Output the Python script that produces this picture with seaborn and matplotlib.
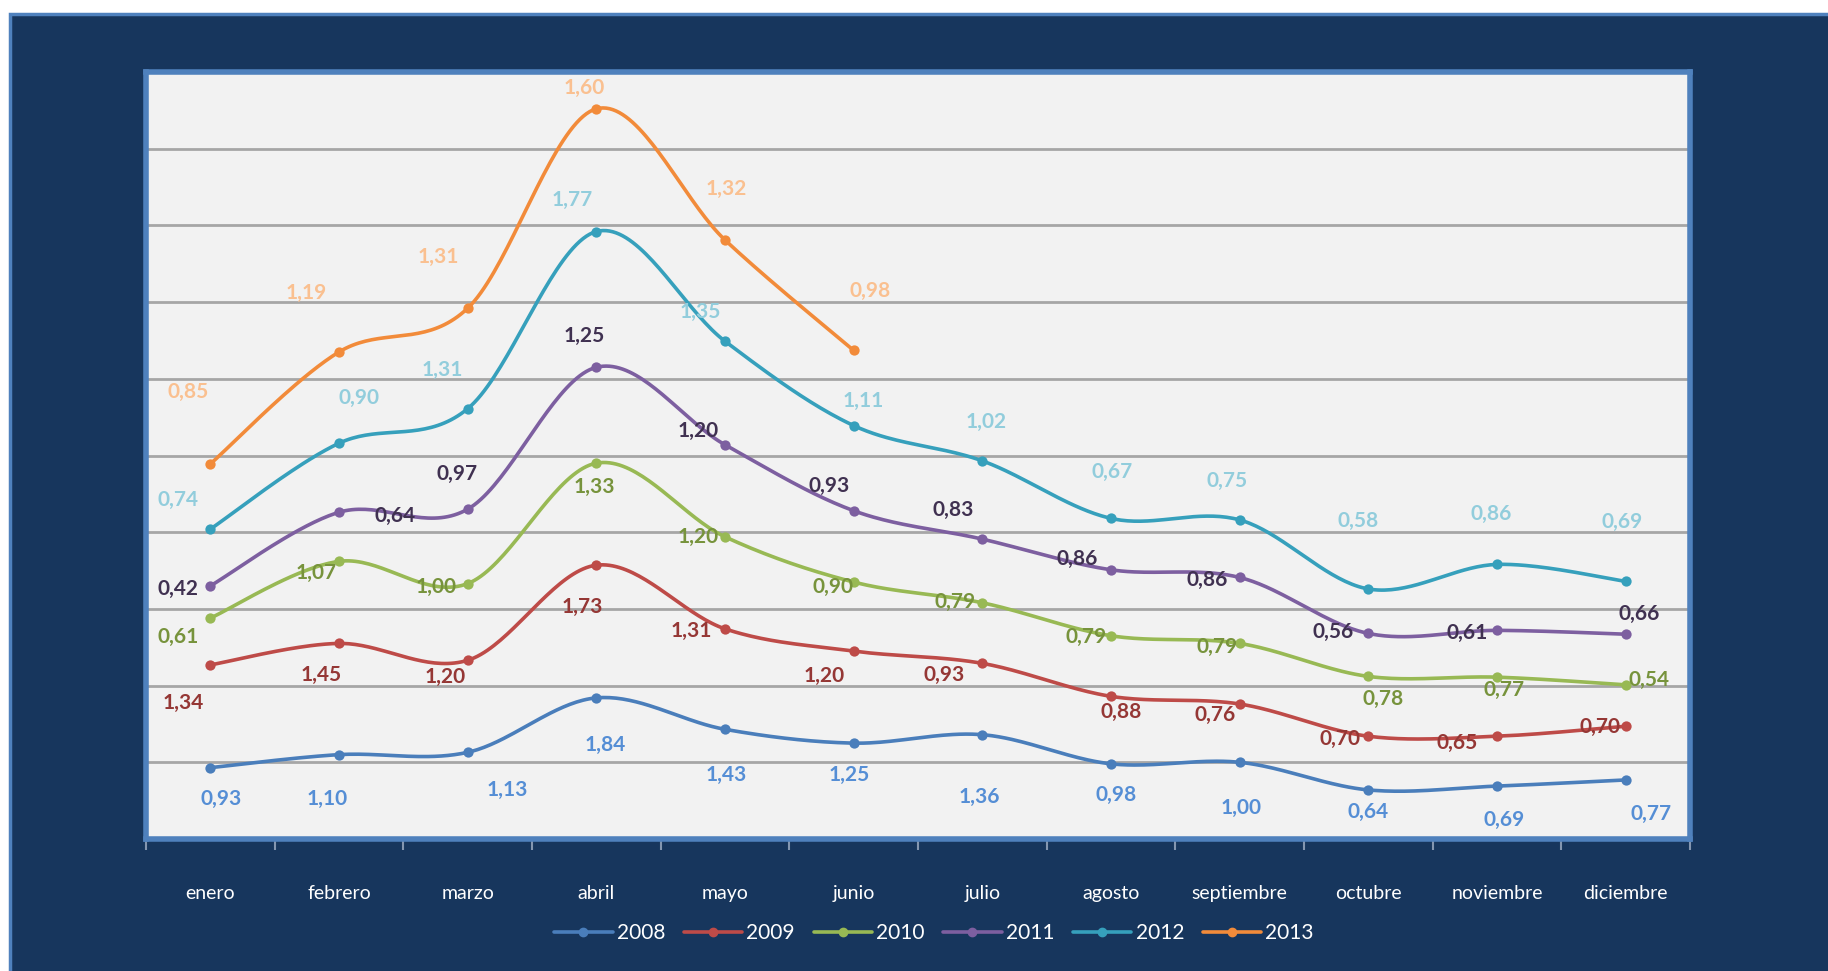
import numpy as np
import pandas as pd
import seaborn as sns
import matplotlib
matplotlib.use("Agg")
import matplotlib.pyplot as plt
from matplotlib.patches import Rectangle
from matplotlib.lines import Line2D

# ---------------- data ----------------
months = ["enero", "febrero", "marzo", "abril", "mayo", "junio", "julio",
          "agosto", "septiembre", "octubre", "noviembre", "diciembre"]
years = ["2008", "2009", "2010", "2011", "2012", "2013"]
v2008 = [0.93, 1.10, 1.13, 1.84, 1.43, 1.25, 1.36, 0.98, 1.00, 0.64, 0.69, 0.77]
v2009 = [1.34, 1.45, 1.20, 1.73, 1.31, 1.20, 0.93, 0.88, 0.76, 0.70, 0.65, 0.70]
v2010 = [0.61, 1.07, 1.00, 1.33, 1.20, 0.90, 0.79, 0.79, 0.79, 0.78, 0.77, 0.54]
v2011 = [0.42, 0.64, 0.97, 1.25, 1.20, 0.93, 0.83, 0.86, 0.86, 0.56, 0.61, 0.66]
v2012 = [0.74, 0.90, 1.31, 1.77, 1.35, 1.11, 1.02, 0.67, 0.75, 0.58, 0.86, 0.69]
v2013 = [0.85, 1.19, 1.31, 1.60, 1.32, 0.98]
series = [v2008, v2009, v2010, v2011, v2012, v2013]

# ---------------- style ----------------
line_colors = ["#4a7ebb", "#be4b48", "#98b954", "#7d5fa0", "#36a0bc", "#f28b3a"]
label_colors = ["#558ed5", "#953735", "#77933c", "#403151", "#92cddc", "#fac090"]
# data-label offsets relative to each marker (pixels of a 1568-wide view; +dy = downwards)
label_offsets = [
    [(9, 27), (-10, 38), (34, 32), (8, 40), (1, 39), (-4, 27), (-3, 53), (4, 27), (1, 39), (0, 19), (6, 29), (22, 29)],
    [(-23, 33), (-15, 27), (-19, 14), (-12, 36), (-29, 2), (-25, 21), (-33, 10), (9, 13), (-21, 9), (-24, 2), (-34, 6), (-22, 1)],
    [(-28, 16), (-20, 10), (-27, 3), (-2, 20), (-23, 0), (-18, 4), (-23, -1), (-21, 1), (-19, 3), (13, 19), (6, 11), (20, -4)],
    [(-28, 3), (48, 3), (-9, -30), (-10, -27), (-23, -12), (-21, -21), (-25, -25), (-29, -9), (-28, 2), (-30, -1), (-26, 2), (12, -17)],
    [(-28, -25), (17, -39), (-22, -33), (-21, -27), (-21, -25), (8, -21), (3, -33), (1, -40), (-11, -33), (-9, -58), (-5, -43), (-3, -51)],
    [(-19, -62), (-28, -51), (-25, -44), (-10, -18), (1, -44), (14, -51)],
]
OFF_SCALE = 1828 / 1568

sns.set_theme(style="white")
plt.rcParams["font.family"] = ["Lato", "DejaVu Sans"]

W, H, DPI = 1828, 971, 100
fig = plt.figure(figsize=(W / DPI, H / DPI), dpi=DPI, facecolor="white")

# dark outer panel (drawn behind the axes)
panel = Rectangle((10 / W, -0.01), 1.0, 1 - 14 / H + 0.01, transform=fig.transFigure,
                  facecolor="#17365d", edgecolor="#4f81bd", linewidth=2.5, zorder=-10)
fig.patches.append(panel)

ax = fig.add_axes([146 / W, 1 - 839 / H, (1690 - 146) / W, (839 - 72) / H])
ax.set_zorder(2)
ax.set_facecolor("#f2f2f2")


def smooth(xs, ys, n=40):
    """Excel-like smoothed line (cubic Bezier with Catmull-Rom tangents)."""
    P = np.column_stack([xs, ys]).astype(float)
    m = len(P)
    out = []
    for i in range(m - 1):
        p0 = P[max(i - 1, 0)]
        p1 = P[i]
        p2 = P[i + 1]
        p3 = P[min(i + 2, m - 1)]
        c1 = p1 + (p2 - p0) / 6.0
        c2 = p2 - (p3 - p1) / 6.0
        t = np.linspace(0, 1, n)[:, None]
        seg = ((1 - t) ** 3) * p1 + 3 * ((1 - t) ** 2) * t * c1 + 3 * (1 - t) * t ** 2 * c2 + t ** 3 * p2
        out.append(seg if i == 0 else seg[1:])
    return np.vstack(out)


cum = np.zeros(len(months))
for k, (yr, vals) in enumerate(zip(years, series)):
    n = len(vals)
    cum_vals = cum[:n] + np.array(vals)
    xs = np.arange(n)
    curve = smooth(xs, cum_vals)
    df_curve = pd.DataFrame({"x": curve[:, 0], "y": curve[:, 1]})
    sns.lineplot(data=df_curve, x="x", y="y", ax=ax, color=line_colors[k], linewidth=2.6,
                 sort=False, estimator=None, zorder=3 + k)
    df_pts = pd.DataFrame({"x": xs, "y": cum_vals})
    sns.scatterplot(data=df_pts, x="x", y="y", ax=ax, color=line_colors[k], s=55,
                    edgecolor=line_colors[k], linewidth=0, zorder=4 + k)
    for i, v in enumerate(vals):
        dx, dy = label_offsets[k][i]
        ax.annotate(f"{v:.2f}".replace(".", ","), (xs[i], cum_vals[i]),
                    xytext=(dx * OFF_SCALE, -dy * OFF_SCALE), textcoords="offset pixels",
                    ha="center", va="center", fontsize=15, fontweight="bold",
                    color=label_colors[k], zorder=20)
    cum[:n] = cum_vals

ax.set_xlim(-0.5, len(months) - 0.5)
ax.set_ylim(0, 10)
ax.set_yticks(np.arange(1, 10))
ax.yaxis.grid(True, color="#a6a6a6", linewidth=2.0)
ax.set_axisbelow(True)
ax.tick_params(axis="y", length=0, labelleft=False)
ax.set_xticks(np.arange(len(months)))
ax.set_xticklabels(months, color="white", fontsize=14)
ax.set_xticks(np.arange(-0.5, len(months)), minor=True)
ax.tick_params(axis="x", which="major", length=0, pad=33)
ax.tick_params(axis="x", which="minor", length=8, width=1.5, color="#8496b0", direction="out", bottom=True)
ax.set_xlabel("")
ax.set_ylabel("")
for sp in ax.spines.values():
    sp.set_visible(True)
    sp.set_color("#4f81bd")
    sp.set_linewidth(4)

handles = [Line2D([0], [0], color=c, linewidth=2.6, marker="o", markersize=6) for c in line_colors]
fig.legend(handles, years, loc="center", bbox_to_anchor=(934 / W, 1 - 933 / H), ncol=6,
           frameon=False, fontsize=15, labelcolor="white", handlelength=2.8,
           handletextpad=0.2, columnspacing=0.9)

fig.savefig("out.png", dpi=DPI, facecolor=fig.get_facecolor())
